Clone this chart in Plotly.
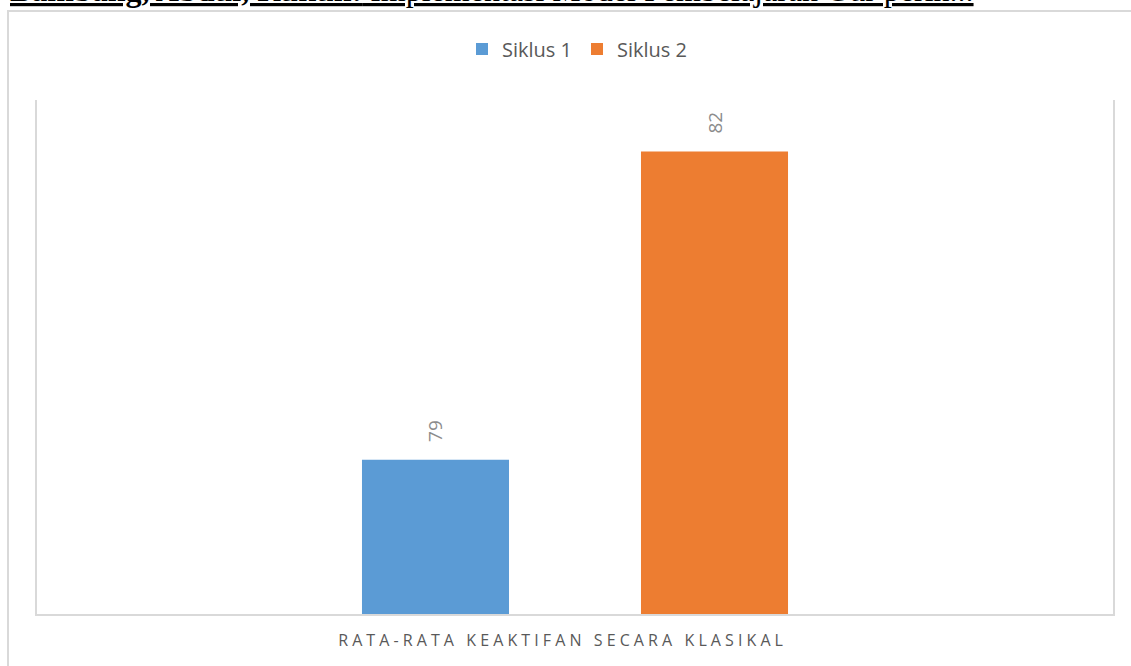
import plotly.graph_objects as go

categories = ["RATA-RATA KEAKTIFAN SECARA KLASIKAL"]
series_names = ["Siklus 1", "Siklus 2"]
siklus1 = [79]
siklus2 = [82]
colors = ["#5B9BD5", "#ED7D31"]
header_bold = "Bambang, Abdul, Rukun:"
header_rest = " Implementasi Model Pembelajaran Gur perin..."

W, H = 1131, 666
ml, mr, mt, mb = 37, 18, 100, 52
pw, ph = W - ml - mr, H - mt - mb

cat_labels = ['<span style="letter-spacing:4.1px">' + c + '\u00a0\u00a0\u00a0</span>' for c in categories]
label_pad = "\u00a0\u00a0\u00a0"

fig = go.Figure()
for name, vals, col in zip(series_names, [siklus1, siklus2], colors):
    fig.add_trace(go.Bar(
        x=cat_labels, y=vals, name=name,
        marker=dict(color=col, line=dict(width=0)),
        text=[label_pad + str(v) for v in vals], textposition="outside", textangle=-90,
        textfont=dict(family="Open Sans", size=19, color="#8C8C8C"),
        cliponaxis=False,
    ))

fig.update_layout(
    width=W, height=H,
    margin=dict(l=ml, r=mr, t=mt, b=mb),
    paper_bgcolor="white", plot_bgcolor="white",
    barmode="group", bargap=0.4814, bargroupgap=0.473,
    font=dict(family="Open Sans", color="#595959"),
    showlegend=True,
    legend=dict(orientation="h", x=(577 - ml) / pw, xanchor="center", y=1.0 + (mt - 49) / ph, yanchor="middle",
                font=dict(family="Open Sans", size=20, color="#595959"),
                itemwidth=30, traceorder="normal"),
    xaxis=dict(showline=True, linecolor="#D9D9D9", linewidth=2, showgrid=False,
               ticks="", ticklabelstandoff=11,
               tickfont=dict(family="Open Sans", size=16, color="#595959"),
               fixedrange=True),
    yaxis=dict(range=[77.5, 82.5], showline=True, mirror=True, linecolor="#D9D9D9", linewidth=1.5,
               showgrid=False, showticklabels=False, ticks="", zeroline=False),
)

# outer chart frame (extends past the right and bottom edges of the page crop)
fig.add_shape(type="rect", xref="paper", yref="paper",
              x0=(8 - ml) / pw, x1=(W + 20 - ml) / pw,
              y0=-(mb + 20) / ph, y1=1.0 + (mt - 11) / ph,
              line=dict(color="#D9D9D9", width=2), layer="below")

# page header, cut off at the top
fig.add_annotation(xref="paper", yref="paper", x=(8 - ml) / pw, xanchor="left",
                   y=1.0 + (mt - 10) / ph, yanchor="bottom", showarrow=False,
                   text='<span style="text-decoration:underline"><b>' + header_bold + '</b>' + header_rest + '</span>',
                   font=dict(family="Liberation Serif", size=32, color="black"))

fig.write_html("out.html", config={"displayModeBar": False},
               post_script="document.body.style.margin='0';")
